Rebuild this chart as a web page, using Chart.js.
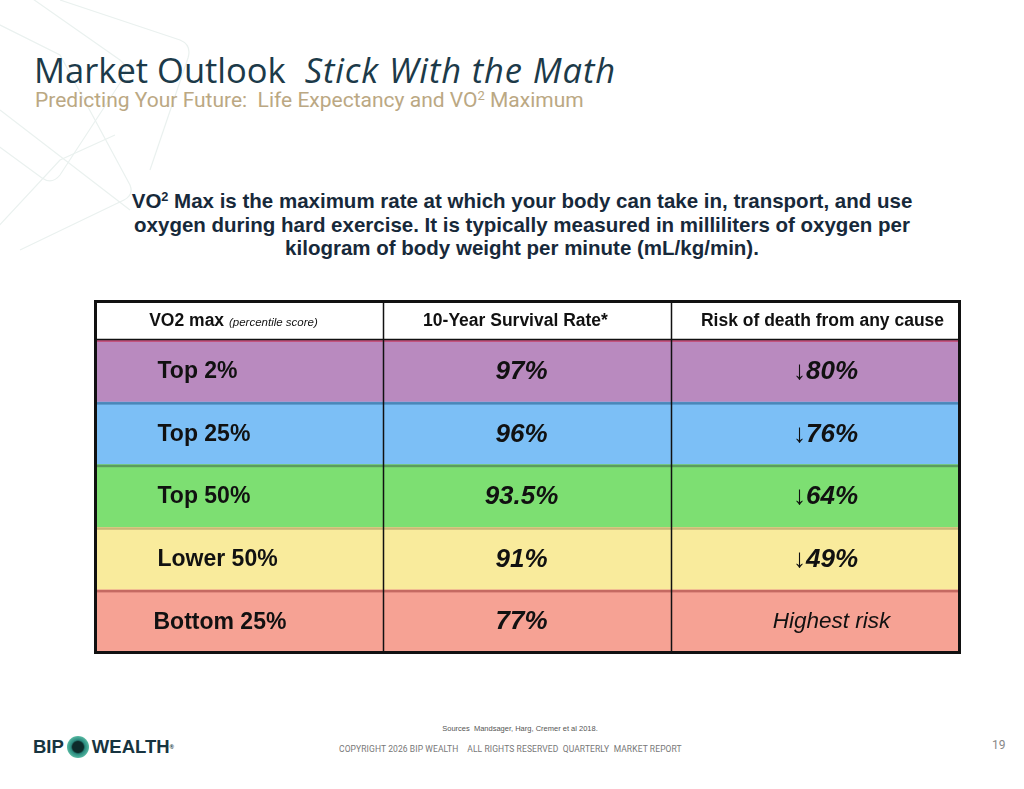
<!DOCTYPE html>
<html>
<head>
<meta charset="utf-8">
<script src="https://cdn.jsdelivr.net/npm/chart.js@4.4.1/dist/chart.umd.min.js"></script>
<style>
  html, body { margin: 0; padding: 0; background: #fff; }
  body { width: 1024px; height: 789px; position: relative; overflow: hidden; font-family: "Liberation Sans", Arial, sans-serif; }
  #deco { position: absolute; left: 0; top: 0; }
  .title { position: absolute; left: 34px; top: 46px; font-family: "Open Sans", sans-serif; font-size: 34.5px; color: #1c3a49; letter-spacing: 0px; white-space: nowrap; }
  .title i { margin-left: 10px; letter-spacing: 0.9px; }
  .subtitle { position: absolute; left: 35px; top: 88px; font-family: "Roboto", sans-serif; font-size: 21px; color: #bba883; letter-spacing: 0px; white-space: nowrap; }
  .subtitle sup, .intro sup { font-size: 62%; vertical-align: 0.55em; line-height: 0; }
  .intro { position: absolute; left: 0; width: 1044px; top: 189px; text-align: center; font-weight: bold; font-size: 20.5px; line-height: 23.5px; color: #17293a; }
  #wrap { position: absolute; left: 94px; top: 300px; width: 867px; height: 354px; }
  .src { position: absolute; left: 0; width: 1040px; top: 724px; text-align: center; font-size: 7.5px; color: #555; }
  .copy { position: absolute; left: 339px; top: 744px; font-family: "Roboto", sans-serif; font-size: 8.5px; color: #777; letter-spacing: 0.1px; white-space: nowrap; }
  .page { position: absolute; left: 992px; top: 738px; font-family: "Roboto", sans-serif; font-size: 12px; color: #888; }
  .logo { position: absolute; left: 33px; top: 736px; font-family: "Liberation Sans", sans-serif; font-weight: bold; font-size: 18.5px; color: #173440; white-space: nowrap; display: flex; align-items: center; }
  .logo .dot { width: 22px; height: 22px; border-radius: 50%; margin: 0 3px; background: radial-gradient(circle, #0d2b2a 0 35%, #2a8a7e 45%, #5fc1a8 75%, #9ad8c6 100%); }
  .logo sup { font-size: 6px; vertical-align: 9px; }
</style>
</head>
<body>
<svg id="deco" width="220" height="260" viewBox="0 0 220 260">
  <g fill="none" stroke="#eaf1ef" stroke-width="1.2">
    <path d="M20 -10 L120 60 Q130 68 122 80 L60 175 Q52 185 42 178 L-10 140"/>
    <path d="M-10 20 L60 55 L130 185 Q134 195 124 200 L20 250"/>
    <path d="M60 0 L180 40 Q192 45 188 58 L150 170"/>
    <path d="M0 110 L130 210"/>
    <path d="M-5 230 L60 160 L115 135"/>
  </g>
</svg>

<div class="title">Market Outlook <i>Stick With the Math</i></div>
<div class="subtitle">Predicting Your Future:&nbsp; Life Expectancy and VO<sup>2</sup> Maximum</div>

<div class="intro">VO<sup>2</sup> Max is the maximum rate at which your body can take in, transport, and use<br>oxygen during hard exercise. It is typically measured in milliliters of oxygen per<br>kilogram of body weight per minute (mL/kg/min).</div>

<div id="wrap"><canvas id="vo2Table"></canvas></div>

<div class="src">Sources&nbsp; Mandsager, Harg, Cremer et al 2018.</div>
<div class="copy">COPYRIGHT 2026 BIP WEALTH &nbsp;&nbsp;&nbsp;ALL RIGHTS RESERVED&nbsp; QUARTERLY&nbsp; MARKET REPORT</div>
<div class="page">19</div>
<div class="logo">BIP<span class="dot"></span>WEALTH<sup>®</sup></div>

<script>
// Table content
var columns = ['VO2 max', '10-Year Survival Rate*', 'Risk of death from any cause'];
var groups = ['Top 2%', 'Top 25%', 'Top 50%', 'Lower 50%', 'Bottom 25%'];
var survival = ['97%', '96%', '93.5%', '91%', '77%'];
var riskDrop = ['80%', '76%', '64%', '49%', 'Highest risk'];

// Row colours (fill, top edge line)
var rowColors = ['#b98abf', '#7cbff6', '#7ddf72', '#f9eb9c', '#f6a294'];
var rowEdges = ['#c2537f', '#4a86b8', '#5c9c5e', '#c9b877', '#c56a62'];

var HEADER_H = 38;

// Draws header, borders and the text of every cell
var tablePlugin = {
    id: 'tableText',
    afterDatasetsDraw: function(chart) {
        var ctx = chart.ctx;
        var area = chart.chartArea;
        var xs = chart.scales.x;
        var ys = chart.scales.y;
        var top = area.top - HEADER_H;
        var colEdges = [0, 1, 2, 3].map(function(v) { return xs.getPixelForValue(v); });
        var colMid = [0.5, 1.5, 2.5].map(function(v) { return xs.getPixelForValue(v); });

        ctx.save();
        // header background
        ctx.fillStyle = '#ffffff';
        ctx.fillRect(area.left, top, area.right - area.left, HEADER_H);

        // row top lines
        var rowH = ys.getPixelForValue(1) - ys.getPixelForValue(0);
        groups.forEach(function(g, i) {
            var y0 = ys.getPixelForValue(i) - rowH / 2;
            ctx.fillStyle = rowEdges[i];
            ctx.fillRect(area.left, y0, area.right - area.left, 2.5);
        });

        // header text
        ctx.fillStyle = '#111';
        ctx.textBaseline = 'middle';
        var hy = top + HEADER_H / 2 + 1;
        ctx.font = 'bold 17.5px "Liberation Sans", Arial';
        var w1 = ctx.measureText(columns[0] + ' ').width;
        ctx.font = 'italic 11.5px "Liberation Sans", Arial';
        var w2 = ctx.measureText('(percentile score)').width;
        var sx = colMid[0] - (w1 + w2) / 2 - 6;
        ctx.textAlign = 'left';
        ctx.font = 'bold 17.5px "Liberation Sans", Arial';
        ctx.fillText(columns[0] + ' ', sx, hy);
        ctx.font = 'italic 11.5px "Liberation Sans", Arial';
        ctx.fillText('(percentile score)', sx + w1, hy + 1);
        ctx.textAlign = 'center';
        ctx.font = 'bold 17.5px "Liberation Sans", Arial';
        ctx.fillText(columns[1], colMid[1] - 12, hy);
        ctx.fillText(columns[2], colMid[2] + 7, hy);

        // cell text
        groups.forEach(function(g, i) {
            var y = ys.getPixelForValue(i) + 1;
            ctx.textAlign = 'left';
            ctx.font = 'bold 23px "Liberation Sans", Arial';
            ctx.fillStyle = '#111';
            ctx.fillText(g, colEdges[0] + (i === 4 ? 58 : 62), y);

            ctx.textAlign = 'center';
            ctx.font = 'italic bold 26px "Liberation Sans", Arial';
            ctx.fillText(survival[i], colMid[1] - 6, y);

            if (riskDrop[i].indexOf('%') > -1) {
                ctx.font = 'italic bold 26px "Liberation Sans", Arial';
                ctx.fillText('\u2193' + riskDrop[i], colMid[2] + 10, y);
            } else {
                ctx.font = 'italic 22.5px "Liberation Sans", Arial';
                ctx.fillText(riskDrop[i], colMid[2] + 16, y);
            }
        });

        // grid lines
        ctx.strokeStyle = '#111';
        ctx.lineWidth = 1.5;
        ctx.beginPath();
        ctx.moveTo(area.left, area.top);
        ctx.lineTo(area.right, area.top);
        [1, 2].forEach(function(c) {
            ctx.moveTo(colEdges[c], top);
            ctx.lineTo(colEdges[c], area.bottom);
        });
        ctx.stroke();

        // outer border
        ctx.lineWidth = 3;
        ctx.strokeRect(area.left, top, area.right - area.left, area.bottom - top);
        ctx.restore();
    }
};

var datasets = columns.map(function(c) {
    return {
        label: c,
        data: groups.map(function() { return 1; }),
        backgroundColor: rowColors,
        borderWidth: 0,
        barPercentage: 1,
        categoryPercentage: 1
    };
});

new Chart(document.getElementById('vo2Table').getContext('2d'), {
    type: 'bar',
    data: { labels: groups, datasets: datasets },
    options: {
        indexAxis: 'y',
        responsive: true,
        maintainAspectRatio: false,
        animation: false,
        layout: { padding: { left: 1.5, right: 1.5, top: 1.5, bottom: 1.5 } },
        plugins: { legend: { display: false }, tooltip: { enabled: false } },
        scales: {
            x: {
                position: 'top',
                stacked: true,
                min: 0,
                max: 3,
                ticks: { display: false },
                grid: { display: false },
                border: { display: false },
                afterFit: function(scale) { scale.height = HEADER_H; }
            },
            y: {
                stacked: true,
                display: false
            }
        }
    },
    plugins: [tablePlugin]
});
</script>
</body>
</html>
